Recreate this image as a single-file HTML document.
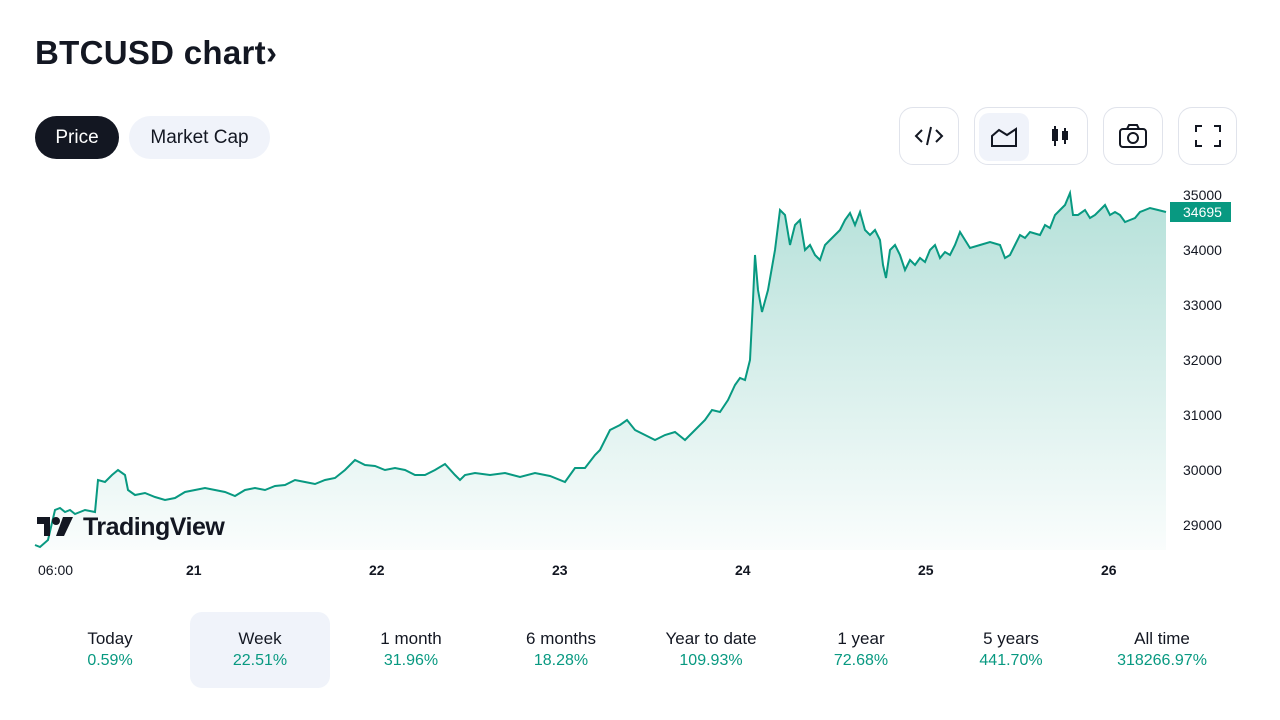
<!DOCTYPE html>
<html><head><meta charset="utf-8"><style>
body{margin:0;width:1280px;height:720px;background:#fff;font-family:"Liberation Sans",sans-serif;overflow:hidden;position:relative;color:#131722}
.t{position:absolute;left:35px;top:34px;font-size:33px;font-weight:bold;letter-spacing:0.3px}
.pill{position:absolute;top:116px;height:43px;border-radius:22px;font-size:19px;line-height:43px;text-align:center}
.btn{position:absolute;top:107px;height:58px;border:1px solid #e0e3eb;border-radius:14px;box-sizing:border-box}
.ax{position:absolute;font-size:14px;color:#131722}
.yl{position:absolute;left:1183px;font-size:14px;color:#131722}
.st{position:absolute;top:612px;width:140px;height:76px;text-align:center;font-size:17px;border-radius:12px}
.st div{color:#089981;margin-top:3px;font-size:16px}
</style></head><body>
<div class="t">BTCUSD chart›</div>
<div class="pill" style="left:35px;width:84px;background:#131722;color:#fff">Price</div>
<div class="pill" style="left:129px;width:141px;background:#f0f3fa">Market Cap</div>
<div class="btn" style="left:899px;width:60px"><svg width="58" height="56" viewBox="0 0 58 56"><path d="M22 22l-6 6 6 6M36 22l6 6-6 6M31 19l-4 18" fill="none" stroke="#131722" stroke-width="2"/></svg></div>
<div class="btn" style="left:974px;width:114px"><div style="position:absolute;left:4px;top:5px;width:50px;height:48px;background:#f0f3fa;border-radius:10px"></div>
<svg style="position:absolute;left:0;top:0" width="112" height="56"><path d="M17 38v-10l7-6 8 5 9-6v17z" fill="none" stroke="#131722" stroke-width="2"/><path d="M80 18v20M78 22h4v10h-4zM90 20v16M88 24h4v7h-4z" fill="none" stroke="#131722" stroke-width="2"/></svg></div>
<div class="btn" style="left:1103px;width:60px"><svg width="58" height="56"><rect x="16" y="21" width="26" height="18" rx="3" fill="none" stroke="#131722" stroke-width="2"/><path d="M23 21l2-4h8l2 4" fill="none" stroke="#131722" stroke-width="2"/><circle cx="29" cy="30" r="5" fill="none" stroke="#131722" stroke-width="2"/></svg></div>
<div class="btn" style="left:1178px;width:59px"><svg width="58" height="56"><path d="M17 24v-6h6M35 18h6v6M41 32v6h-6M23 38h-6v-6" fill="none" stroke="#131722" stroke-width="2"/></svg></div>
<svg style="position:absolute;left:0;top:0" width="1280" height="600">
<defs><linearGradient id="g" x1="0" y1="0" x2="0" y2="1"><stop offset="0" stop-color="#089981" stop-opacity="0.3"/><stop offset="1" stop-color="#089981" stop-opacity="0.02"/></linearGradient></defs>
<path id="p" d="M35,545 L40,547 48,540 55,510 60,508 65,512 70,510 75,514 85,510 95,512 98,480 105,482 112,475 118,470 125,475 128,490 135,495 145,493 155,497 165,500 175,498 185,492 195,490 205,488 215,490 225,492 235,496 245,490 255,488 265,490 275,486 285,485 295,480 305,482 315,484 325,480 335,478 345,470 355,460 365,465 375,466 385,470 395,468 405,470 415,475 425,475 435,470 445,464 455,475 460,480 465,475 475,473 490,475 505,473 520,477 535,473 550,476 565,482 575,468 585,468 595,455 600,450 610,430 620,425 627,420 635,430 645,435 655,440 665,435 675,432 685,440 695,430 705,420 712,410 720,412 728,400 735,385 740,378 745,380 750,360 753,300 755,255 758,290 762,312 768,290 775,250 780,210 785,215 790,245 795,225 800,220 805,250 810,245 815,255 820,260 825,245 830,240 835,235 840,230 845,220 850,213 855,225 860,212 865,230 870,235 875,230 880,240 883,265 886,278 890,250 895,245 900,255 905,270 910,260 915,265 920,258 925,262 930,250 935,245 940,258 945,252 950,255 955,245 960,232 965,240 970,248 980,245 990,242 1000,245 1005,258 1010,255 1015,245 1020,235 1025,238 1030,232 1040,235 1045,225 1050,228 1055,215 1060,210 1065,205 1070,193 1073,215 1078,215 1085,210 1090,218 1095,215 1100,210 1105,205 1110,215 1115,212 1120,215 1125,222 1130,220 1135,218 1140,212 1150,208 1158,210 1166,212" fill="none" stroke="#089981" stroke-width="2"/>
<path d="M35,545 L40,547 48,540 55,510 60,508 65,512 70,510 75,514 85,510 95,512 98,480 105,482 112,475 118,470 125,475 128,490 135,495 145,493 155,497 165,500 175,498 185,492 195,490 205,488 215,490 225,492 235,496 245,490 255,488 265,490 275,486 285,485 295,480 305,482 315,484 325,480 335,478 345,470 355,460 365,465 375,466 385,470 395,468 405,470 415,475 425,475 435,470 445,464 455,475 460,480 465,475 475,473 490,475 505,473 520,477 535,473 550,476 565,482 575,468 585,468 595,455 600,450 610,430 620,425 627,420 635,430 645,435 655,440 665,435 675,432 685,440 695,430 705,420 712,410 720,412 728,400 735,385 740,378 745,380 750,360 753,300 755,255 758,290 762,312 768,290 775,250 780,210 785,215 790,245 795,225 800,220 805,250 810,245 815,255 820,260 825,245 830,240 835,235 840,230 845,220 850,213 855,225 860,212 865,230 870,235 875,230 880,240 883,265 886,278 890,250 895,245 900,255 905,270 910,260 915,265 920,258 925,262 930,250 935,245 940,258 945,252 950,255 955,245 960,232 965,240 970,248 980,245 990,242 1000,245 1005,258 1010,255 1015,245 1020,235 1025,238 1030,232 1040,235 1045,225 1050,228 1055,215 1060,210 1065,205 1070,193 1073,215 1078,215 1085,210 1090,218 1095,215 1100,210 1105,205 1110,215 1115,212 1120,215 1125,222 1130,220 1135,218 1140,212 1150,208 1158,210 1166,212 L1166,550 L35,550Z" fill="url(#g)"/>
<rect x="1170" y="202" width="61" height="20" fill="#089981"/>
<text x="1183" y="217" font-size="14" fill="#fff" font-family="Liberation Sans">34695</text>
<path d="M37,517h13v19h-6v-12h-7z" fill="#131722"/><circle cx="56" cy="521" r="4" fill="#131722"/><path d="M63,517h10l-9,19h-8z" fill="#131722"/>
<text x="83" y="535" font-size="25" font-weight="bold" fill="#131722" font-family="Liberation Sans" letter-spacing="-0.5">TradingView</text>
</svg>
<div class="yl" style="top:187px">35000</div>
<div class="yl" style="top:242px">34000</div>
<div class="yl" style="top:297px">33000</div>
<div class="yl" style="top:352px">32000</div>
<div class="yl" style="top:407px">31000</div>
<div class="yl" style="top:462px">30000</div>
<div class="yl" style="top:517px">29000</div>
<div class="ax" style="left:38px;top:562px">06:00</div>
<div class="ax" style="left:186px;top:562px;font-weight:bold">21</div>
<div class="ax" style="left:369px;top:562px;font-weight:bold">22</div>
<div class="ax" style="left:552px;top:562px;font-weight:bold">23</div>
<div class="ax" style="left:735px;top:562px;font-weight:bold">24</div>
<div class="ax" style="left:918px;top:562px;font-weight:bold">25</div>
<div class="ax" style="left:1101px;top:562px;font-weight:bold">26</div>
<div class="st" style="left:40px"><span style="line-height:52px"></span></div>
<div class="st" style="left:40px;padding-top:17px;box-sizing:border-box">Today<div>0.59%</div></div>
<div class="st" style="left:190px;padding-top:17px;box-sizing:border-box;background:#f0f3fa">Week<div>22.51%</div></div>
<div class="st" style="left:341px;padding-top:17px;box-sizing:border-box">1 month<div>31.96%</div></div>
<div class="st" style="left:491px;padding-top:17px;box-sizing:border-box">6 months<div>18.28%</div></div>
<div class="st" style="left:641px;padding-top:17px;box-sizing:border-box">Year to date<div>109.93%</div></div>
<div class="st" style="left:791px;padding-top:17px;box-sizing:border-box">1 year<div>72.68%</div></div>
<div class="st" style="left:941px;padding-top:17px;box-sizing:border-box">5 years<div>441.70%</div></div>
<div class="st" style="left:1092px;padding-top:17px;box-sizing:border-box">All time<div>318266.97%</div></div>
</body></html>
